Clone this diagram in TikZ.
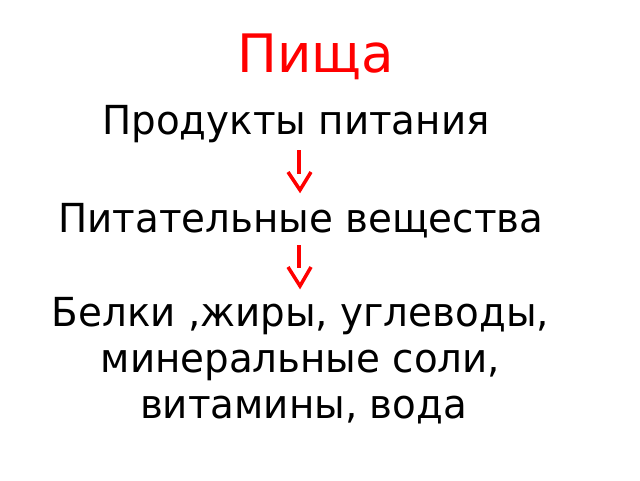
\documentclass[tikz,border=0pt]{standalone}
\usepackage{fontspec}
\setmainfont{DejaVu Sans}
\newfontfamily\bodyfont{DejaVu Sans}[FakeStretch=0.97]
\begin{document}
\begin{tikzpicture}[x=1pt,y=-1pt,
  txt/.style={anchor=base, inner sep=0pt, font=\bodyfont\fontsize{40}{48}\selectfont},
  ttl/.style={anchor=base, inner sep=0pt, text=red, font=\fontsize{53}{60}\selectfont},
  shaft/.style={draw=red, line width=4.5pt},
  vhead/.style={draw=red, line width=3.5pt, line join=miter}]
\useasboundingbox (0,0) rectangle (640,480);
\node[ttl] (title) at (316,72) {Пища};
\node[txt] (l1) at (296,134) {Продукты питания};
\node[txt] (l2) at (301,232) {Питательные вещества};
\node[txt] (l3) at (300.5,326) {Белки ,жиры, углеводы,};
\node[txt] (l4) at (300.5,372) {минеральные соли,};
\node[txt] (l5) at (303.5,418) {витамины, вода};
% arrow 1
\coordinate (a1s) at (299,150);
\coordinate (a1e) at (299,174);
\coordinate (a1l) at (288,172);
\coordinate (a1t) at (300,190);
\coordinate (a1r) at (311,172);
\draw[shaft] (a1s) -- (a1e);
\draw[vhead] (a1l) -- (a1t) -- (a1r);
% arrow 2
\coordinate (a2s) at (299,245);
\coordinate (a2e) at (299,268);
\coordinate (a2l) at (288,267);
\coordinate (a2t) at (300,286);
\coordinate (a2r) at (311,267);
\draw[shaft] (a2s) -- (a2e);
\draw[vhead] (a2l) -- (a2t) -- (a2r);
\end{tikzpicture}
\end{document}
